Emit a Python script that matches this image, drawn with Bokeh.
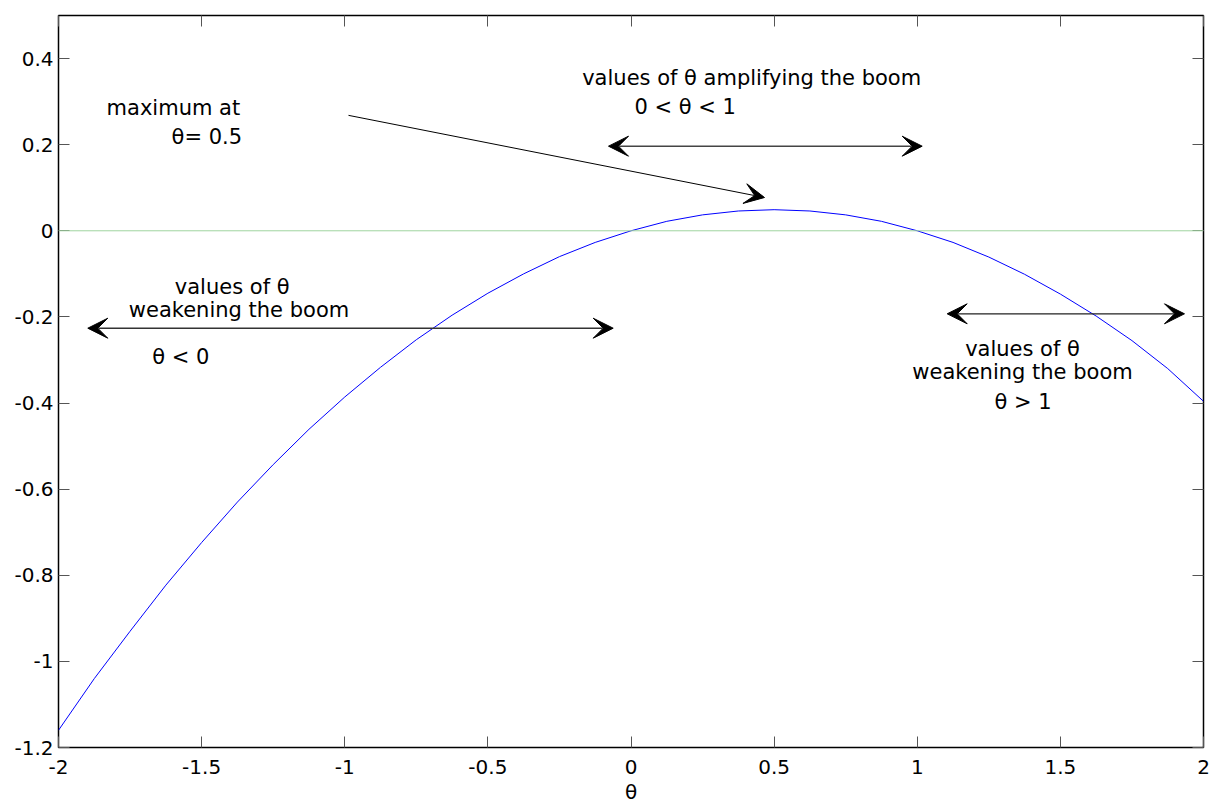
from bokeh.plotting import figure
from bokeh.models import (Range1d, LinearAxis, FixedTicker, CustomJSTickFormatter,
                          Span, Label, Arrow, VeeHead)
from bokeh.embed import file_html
from bokeh.resources import INLINE

# ---- data ----
theta = [-2.0, -1.875, -1.75, -1.625, -1.5, -1.375, -1.25, -1.125, -1.0,
         -0.875, -0.75, -0.625, -0.5, -0.375, -0.25, -0.125, 0.0,
         0.125, 0.25, 0.375, 0.5, 0.625, 0.75, 0.875, 1.0,
         1.125, 1.25, 1.375, 1.5, 1.625, 1.75, 1.875, 2.0]
boom = [-1.160, -1.040, -0.930, -0.823, -0.724, -0.630, -0.543, -0.461, -0.386,
        -0.317, -0.253, -0.196, -0.145, -0.100, -0.060, -0.027, 0.0,
        0.022, 0.037, 0.046, 0.049, 0.046, 0.037, 0.022, 0.0,
        -0.027, -0.061, -0.101, -0.147, -0.198, -0.255, -0.320, -0.396]

x_ticks = [-2, -1.5, -1, -0.5, 0, 0.5, 1, 1.5, 2]
x_tick_labels = ["-2", "-1.5", "-1", "-0.5", "0", "0.5", "1", "1.5", "2"]
y_ticks = [-1.2, -1, -0.8, -0.6, -0.4, -0.2, 0, 0.2, 0.4]
y_tick_labels = ["-1.2", "-1", "-0.8", "-0.6", "-0.4", "-0.2", "0", "0.2", "0.4"]

FONT = "DejaVu Sans"

p = figure(width=1223, height=806, output_backend="svg", toolbar_location=None,
           x_range=Range1d(-2, 2), y_range=Range1d(-1.2, 0.5),
           x_axis_location=None, y_axis_location=None,
           min_border_left=58, min_border_right=20, min_border_top=15, min_border_bottom=59)
p.grid.visible = False
p.outline_line_color = "black"
p.outline_line_width = 1.5
p.background_fill_color = "white"
p.border_fill_color = "white"

code = "const i = tvals.findIndex(t => Math.abs(t - tick) < 1e-9); return i >= 0 ? tlabs[i] : '';"
xfmt = CustomJSTickFormatter(args=dict(tvals=x_ticks, tlabs=x_tick_labels), code=code)
yfmt = CustomJSTickFormatter(args=dict(tvals=y_ticks, tlabs=y_tick_labels), code=code)
blank = CustomJSTickFormatter(code="return '';")

def make_axis(ticks, fmt, standoff):
    ax = LinearAxis(ticker=FixedTicker(ticks=ticks), formatter=fmt)
    ax.axis_line_color = None
    ax.major_tick_in = 11
    ax.major_tick_out = 0
    ax.major_tick_line_color = "#555555"
    ax.major_tick_line_width = 1
    ax.minor_tick_line_color = None
    ax.major_label_standoff = standoff
    ax.major_label_text_font = FONT
    ax.major_label_text_font_size = "20px"
    ax.major_label_text_color = "black"
    return ax

xb = make_axis(x_ticks, xfmt, 12)
xb.axis_label = "θ"
xb.axis_label_text_font = FONT
xb.axis_label_text_font_size = "20px"
xb.axis_label_text_font_style = "normal"
xb.axis_label_text_color = "black"
xb.axis_label_standoff = 3
p.add_layout(xb, "below")
p.add_layout(make_axis(y_ticks, yfmt, 5), "left")
p.add_layout(make_axis(x_ticks, blank, 0), "above")
p.add_layout(make_axis(y_ticks, blank, 0), "right")

# zero reference line
p.add_layout(Span(location=0, dimension="width", line_color="#9fd49f", line_width=1))

# curve
p.line(theta, boom, line_color="#0000ff", line_width=1)

# annotations
def txt(x, y, s, align="left"):
    p.add_layout(Label(x=x, y=y, text=s, text_font=FONT, text_font_size="21px",
                       text_color="black", text_align=align, text_baseline="alphabetic"))

txt(-1.832, 0.2857, "maximum at")
txt(-1.605, 0.2183, "θ= 0.5")
txt(-0.1705, 0.3553, "values of θ amplifying the boom")
txt(0.0122, 0.2870, "0 < θ < 1")
txt(-1.3932, -0.1294, "values of θ", "center")
txt(-1.3694, -0.1851, "weakening the boom", "center")
txt(-1.6727, -0.2935, "θ < 0")
txt(1.3677, -0.2750, "values of θ", "center")
txt(1.3677, -0.3284, "weakening the boom", "center")
txt(1.3694, -0.3980, "θ > 1", "center")

def head():
    return VeeHead(size=20, fill_color="black", line_color="black", line_width=1)

p.add_layout(Arrow(start=head(), end=head(), x_start=-0.0786, y_start=0.1965,
                   x_end=1.0173, y_end=0.1965, line_color="#444444", line_width=1.5))
p.add_layout(Arrow(end=head(), x_start=-0.9869, y_start=0.2681,
                   x_end=0.4664, y_end=0.0773, line_color="black", line_width=1))
p.add_layout(Arrow(start=head(), end=head(), x_start=-1.8977, y_start=-0.2262,
                   x_end=-0.0622, y_end=-0.2262, line_color="#333333", line_width=1.5))
p.add_layout(Arrow(start=head(), end=head(), x_start=1.1046, y_start=-0.1928,
                   x_end=1.9336, y_end=-0.1928, line_color="#222222", line_width=1.2))

open("out.html", "w").write(file_html(p, INLINE))
